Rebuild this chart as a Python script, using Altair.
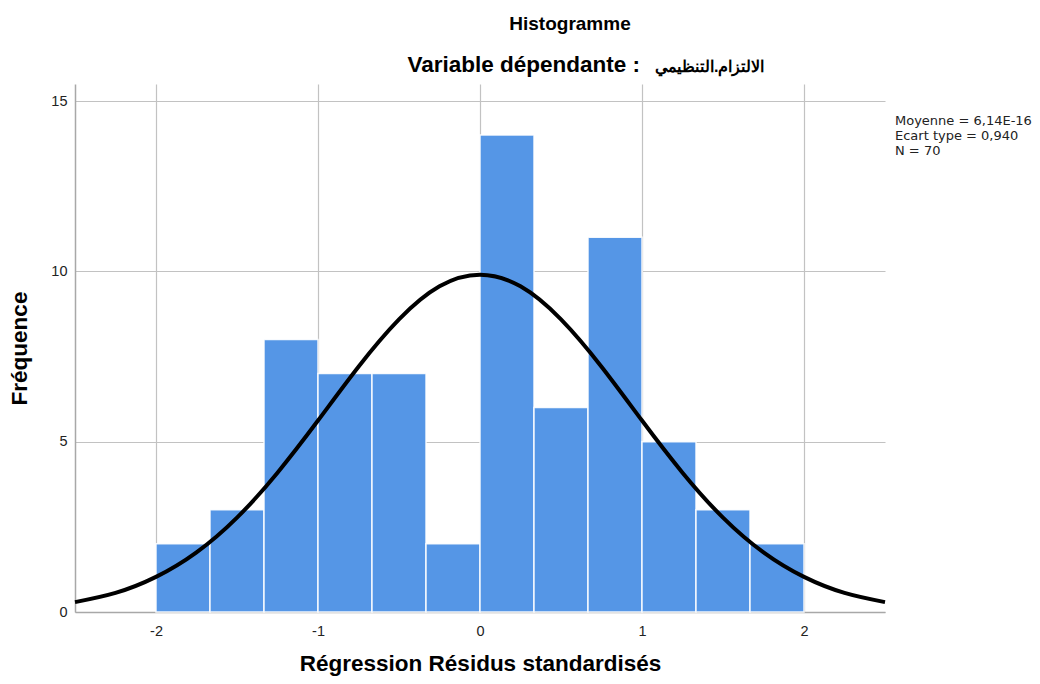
import altair as alt
import pandas as pd

# Histogram bins (standardized residuals) and frequencies
bin_start = [-2.0, -1.6667, -1.3333, -1.0, -0.6667, -0.3333, 0.0, 0.3333, 0.6667, 1.0, 1.3333, 1.6667]
bin_end = [-1.6667, -1.3333, -1.0, -0.6667, -0.3333, 0.0, 0.3333, 0.6667, 1.0, 1.3333, 1.6667, 2.0]
counts = [2, 3, 8, 7, 7, 2, 14, 6, 11, 5, 3, 2]

# Normal curve
curve_x = [-2.5, -2.25, -2.0, -1.75, -1.5, -1.25, -1.0, -0.75, -0.5, -0.25, 0.0,
           0.25, 0.5, 0.75, 1.0, 1.25, 1.5, 1.75, 2.0, 2.25, 2.5]
curve_y = [0.29, 0.56, 1.03, 1.75, 2.77, 4.09, 5.62, 7.20, 8.59, 9.56, 9.90,
           9.56, 8.59, 7.20, 5.62, 4.09, 2.77, 1.75, 1.03, 0.56, 0.29]

x_ticks = [-2, -1, 0, 1, 2]
y_ticks = [0, 5, 10, 15]

title_text = "Histogramme"
subtitle_latin = "Variable dépendante :"
subtitle_arabic = "الالتزام.التنظيمي"
stats_text = ["Moyenne = 6,14E-16", "Ecart type = 0,940", "N = 70"]

bars_df = pd.DataFrame({"start": bin_start, "end": bin_end, "count": counts})
curve_df = pd.DataFrame({"x": curve_x, "y": curve_y})

FONT = "Liberation Sans"

xscale = alt.Scale(domain=[-2.5, 2.5], nice=False, zero=False)
yscale = alt.Scale(domain=[0, 15.5], nice=False)

bars = alt.Chart(bars_df).mark_bar(
    color="#5596E6", stroke="white", strokeWidth=1.5, strokeOpacity=0.9
).encode(
    x=alt.X("start:Q", scale=xscale,
            axis=alt.Axis(values=x_ticks, title="Régression Résidus standardisés",
                          labelExpr="toString(datum.value)", titlePadding=15)),
    x2="end:Q",
    y=alt.Y("count:Q", scale=yscale,
            axis=alt.Axis(values=y_ticks, title="Fréquence",
                          labelExpr="toString(datum.value)", titlePadding=19)),
    y2=alt.datum(0),
)

curve = alt.Chart(curve_df).mark_line(
    color="black", strokeWidth=4, interpolate="natural"
).encode(
    x=alt.X("x:Q", scale=xscale),
    y=alt.Y("y:Q", scale=yscale),
)

one = pd.DataFrame({"k": [0]})

title_mark = alt.Chart(one).mark_text(
    text=title_text, font=FONT, fontSize=19, fontWeight="bold", align="center",
    baseline="alphabetic", color="black"
).encode(x=alt.value(495), y=alt.value(-54))

subtitle_mark1 = alt.Chart(one).mark_text(
    text=subtitle_latin, font=FONT, fontSize=22.5, fontWeight="bold", align="right",
    baseline="alphabetic", color="black"
).encode(x=alt.value(565), y=alt.value(-12))

subtitle_mark2 = alt.Chart(one).mark_text(
    text=subtitle_arabic, font=FONT, fontSize=16, fontWeight="bold", align="left",
    baseline="alphabetic", color="black"
).encode(x=alt.value(580), y=alt.value(-12))

stats_mark = alt.Chart(one).mark_text(
    text=stats_text, font="DejaVu Sans", fontSize=13, align="left",
    baseline="alphabetic", color="#222222", lineHeight=15
).encode(x=alt.value(820), y=alt.value(41))

chart = alt.layer(bars, curve, title_mark, subtitle_mark1, subtitle_mark2, stats_mark).properties(
    width=810, height=528,
    autosize=alt.AutoSizeParams(type="none"),
    padding={"left": 75, "top": 84, "right": 155, "bottom": 72},
).configure_view(
    stroke=None
).configure_axis(
    grid=True, gridColor="#c2c2c2", gridWidth=1.2,
    domainColor="#a8a8a8", domainWidth=1.5,
    ticks=False, labelFont=FONT, labelFontSize=14.5, labelColor="#222222",
    titleFont=FONT, titleFontSize=22.5, titleFontWeight="bold", titleColor="black",
).configure_axisX(
    labelPadding=12
).configure_axisY(
    labelPadding=8
)

chart.save("out.html", embed_options={"renderer": "svg", "actions": False})
